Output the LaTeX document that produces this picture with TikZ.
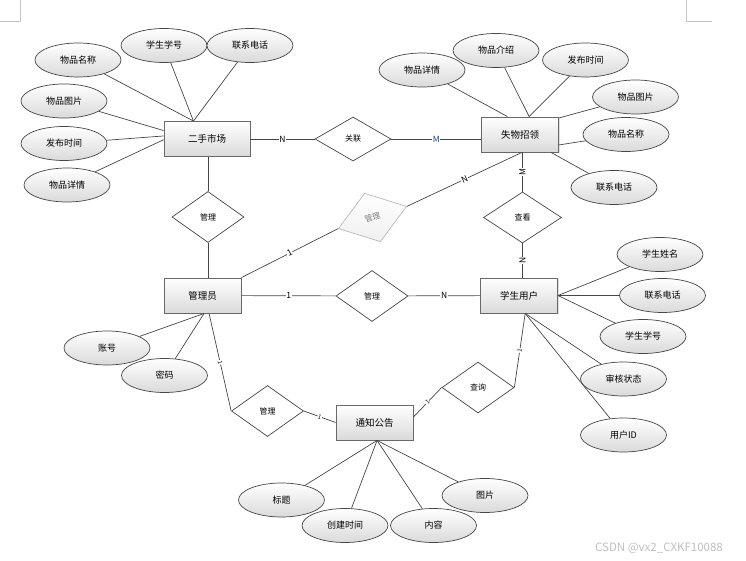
\documentclass[tikz,border=0pt]{standalone}
\usepackage{fontspec}
\setmainfont{Noto Sans CJK SC}
\usepackage{tikz}
\usetikzlibrary{shapes,shadows,calc}
\definecolor{EdgeGray}{RGB}{70, 70, 70}
\definecolor{BoxLine}{RGB}{105, 105, 105}
\definecolor{BoxShade}{RGB}{218, 218, 218}
\definecolor{FadeGray}{RGB}{185, 185, 185}
\definecolor{CardBlue}{RGB}{30, 70, 130}

\begin{document}
\begin{tikzpicture}[x=1pt, y=-1pt,
    entity/.style={draw=BoxLine, line width=0.9pt, top color=white, bottom color=BoxShade, minimum width=77pt, minimum height=35pt, inner sep=0pt, font=\fontsize{9.5}{11}\selectfont, drop shadow={shadow xshift=1pt, shadow yshift=-1pt, opacity=0.25}},
    attr/.style={ellipse, draw=EdgeGray, line width=0.7pt, top color=white, bottom color=BoxShade, minimum width=86pt, minimum height=34pt, inner sep=0pt, font=\fontsize{9}{10}\selectfont},
    rel/.style={diamond, draw=EdgeGray, line width=0.7pt, fill=white, minimum width=72pt, minimum height=51pt, inner sep=0pt, font=\fontsize{8}{9}\selectfont},
    card/.style={fill=white, inner sep=0.6pt, font=\fontsize{8.5}{9}\selectfont},
    tick/.style={card, sloped, font=\fontsize{6}{6}\selectfont},
    link/.style={draw=EdgeGray, line width=0.7pt}]
    \useasboundingbox (0,0) rectangle (746,561);
    \draw[gray!45] (20,0) -- (20,21) -- (0,21);
    \draw[gray!45] (686,0) -- (686,21) -- (712,21);

    \node[entity, minimum width=86pt] (market) at (207,139) {二手市场};
    \node[entity] (lost) at (520,134.5) {失物招领};
    \node[entity] (admin) at (202.5,295.5) {管理员};
    \node[entity] (student) at (519,295.5) {学生用户};
    \node[entity] (notice) at (374.5,422.5) {通知公告};

    \node[rel, minimum width=76pt, minimum height=44pt] (link) at (353,139) {关联};
    \node[rel] (manageM) at (208,217) {管理};
    \node[rel, minimum width=78pt] (view) at (522.5,217.5) {查看};
    \node[rel] (manageS) at (372,296) {管理};
    \node[rel] (manageN) at (267.5,411) {管理};
    \node[rel] (query) at (478,387.5) {查询};
    \node[rel, draw=FadeGray, top color=white, bottom color=gray!12, text=gray, rotate=18] (manageL) at (372.5,217.5) {管理};

    \foreach \n/\x/\y/\t in {
        m1/78/60/物品名称, m2/164/45.5/学生学号, m3/250/45.5/联系电话,
        m4/64/101/物品图片, m5/64/143.5/发布时间, m6/67/185/物品详情,
        l1/422/70/物品详情, l2/496/50.5/物品介绍, l3/585.5/60/发布时间,
        l4/635.5/97/物品图片, l5/626/134.5/物品名称, l6/614/187.5/联系电话,
        a1/107/348/账号, a2/164.5/375.5/密码,
        s1/660/254.5/学生姓名, s2/662.5/295.5/联系电话, s3/643/336.5/学生学号,
        s4/623.5/379/审核状态, s5/623.5/435/用户ID,
        n1/281.5/500/标题, n2/345/525.5/创建时间, n3/433.5/525.5/内容, n4/485/495.5/图片} {
        \node[attr] (\n) at (\x,\y) {\t};
    }

    \foreach \n/\a in {
        m1/market.127, m2/market.127, m3/market.127, m4/market.169, m5/market.176, m6/market.181,
        l1/lost.125, l2/lost.63, l3/lost.63, l4/lost.23, l5/lost.-15, l6/lost.-30,
        a1/admin.-85, a2/admin.-85,
        s1/student.east, s2/student.east, s3/student.east, s4/student.-71, s5/student.-71,
        n1/notice.-82, n2/notice.-82, n3/notice.-82, n4/notice.-82} {
        \draw[link] (\n) -- (\a);
    }

    \draw[link] (market) -- node[card] {N} (link);
    \draw[link] (link.east) -- node[card, text=CardBlue] {M} (link.east -| lost.west);
    \draw[link] (manageM.north |- market.south) -- (manageM.north);
    \draw[link] (manageM.south) -- (manageM.south |- admin.north);
    \draw[link] (view.north |- lost.south) -- node[card, rotate=90] {M} (view.north);
    \draw[link] (view.south) -- node[card, rotate=90] {N} (view.south |- student.north);
    \draw[link] (admin.north east) -- node[card, sloped] {1} (manageL.west);
    \draw[link] (manageL.east) -- node[card, sloped] {N} (lost.-84);
    \draw[link] (admin) -- node[card] {1} (manageS);
    \draw[link] (manageS) -- node[card] {N} (student);
    \draw[link] (admin.-70) -- node[tick] {1} (manageN.west);
    \draw[link] (manageN.east) -- node[tick] {1} (notice.west);
    \draw[link] (student.-71) -- node[tick] {1} (query.east);
    \draw[link] (query.west) -- node[tick] {1} (notice.8);

    \node[text=gray!50, font=\fontsize{11.5}{12}\selectfont] (mark) at (659,548) {CSDN @vx2\_CXKF10088};
\end{tikzpicture}
\end{document}
